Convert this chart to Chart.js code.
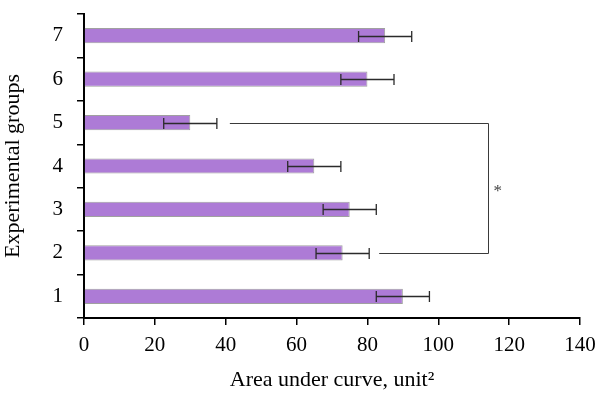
<!DOCTYPE html>
<html>
<head>
<meta charset="utf-8">
<script src="https://cdn.jsdelivr.net/npm/chart.js@4/dist/chart.umd.min.js"></script>
<style>
  html, body { margin: 0; padding: 0; background: #fff; }
  #wrap { width: 598px; height: 393px; }
</style>
</head>
<body>
<div id="wrap"><canvas id="aucChart"></canvas></div>
<script>
// groups, bottom to top
const groups = ['1', '2', '3', '4', '5', '6', '7'];
const aucValues = [90, 73, 75, 65, 30, 80, 85];
const aucErrors = [7.5, 7.5, 7.5, 7.5, 7.5, 7.5, 7.5];
const xTicks = [0, 20, 40, 60, 80, 100, 120, 140];

// significance bracket between group 5 and group 2
const sigPair = ['5', '2'];
const sigBracketX = 114;
const sigLabel = '*';

const serif = '"Liberation Serif", "Times New Roman", serif';

const errorBars = {
    id: 'errorBars',
    afterDatasetsDraw(chart) {
        const ctx = chart.ctx;
        const meta = chart.getDatasetMeta(0);
        const x = chart.scales.x;
        ctx.save();
        ctx.strokeStyle = '#2b2b2b';
        ctx.lineWidth = 1.3;
        meta.data.forEach((bar, i) => {
            const y = Math.round(bar.y) + 0.5;
            const lo = x.getPixelForValue(aucValues[i] - aucErrors[i]);
            const hi = x.getPixelForValue(aucValues[i] + aucErrors[i]);
            ctx.beginPath();
            ctx.moveTo(lo, y); ctx.lineTo(hi, y);
            ctx.moveTo(lo, y - 5.5); ctx.lineTo(lo, y + 5.5);
            ctx.moveTo(hi, y - 5.5); ctx.lineTo(hi, y + 5.5);
            ctx.stroke();
        });

        // bracket
        const a = groups.indexOf(sigPair[0]);
        const b = groups.indexOf(sigPair[1]);
        const ya = Math.round(meta.data[a].y) + 0.5;
        const yb = Math.round(meta.data[b].y) + 0.5;
        const xa = x.getPixelForValue(aucValues[a] + aucErrors[a]) + 13;
        const xb = x.getPixelForValue(aucValues[b] + aucErrors[b]) + 10;
        const xr = Math.round(x.getPixelForValue(sigBracketX)) + 0.5;
        ctx.strokeStyle = '#3a3a3a';
        ctx.lineWidth = 1;
        ctx.beginPath();
        ctx.moveTo(xa, ya); ctx.lineTo(xr, ya); ctx.lineTo(xr, yb); ctx.lineTo(xb, yb);
        ctx.stroke();

        ctx.fillStyle = '#444';
        ctx.font = '17px ' + serif;
        ctx.textAlign = 'left';
        ctx.textBaseline = 'middle';
        ctx.fillText(sigLabel, xr + 5, (ya + yb) / 2 + 3);
        ctx.restore();
    }
};

new Chart(document.getElementById('aucChart'), {
    type: 'bar',
    data: {
        labels: groups,
        datasets: [{
            data: aucValues,
            backgroundColor: '#ad7bd6',
            borderColor: '#a0a0a0',
            borderWidth: 1,
            categoryPercentage: 1,
            barPercentage: 0.35
        }]
    },
    options: {
        indexAxis: 'y',
        responsive: true,
        maintainAspectRatio: false,
        animation: false,
        layout: { padding: { left: 0, right: 18, top: 14, bottom: 0 } },
        plugins: {
            legend: { display: false },
            tooltip: { enabled: false }
        },
        scales: {
            x: {
                type: 'linear',
                min: 0,
                max: 140,
                afterBuildTicks: s => { s.ticks = xTicks.map(v => ({ value: v })); },
                afterFit: s => {
                    s.height = 75;
                    s.paddingLeft = 0;
                    s.paddingRight = 0;
                },
                border: { display: true, color: '#000', width: 2 },
                grid: {
                    drawOnChartArea: false,
                    drawTicks: true,
                    tickLength: 7,
                    color: '#000',
                    lineWidth: 1.5
                },
                ticks: {
                    color: '#000',
                    padding: 8,
                    maxRotation: 0,
                    font: { family: serif, size: 21 }
                },
                title: {
                    display: true,
                    text: 'Area under curve, unit²',
                    color: '#000',
                    padding: { top: 6, bottom: 0 },
                    font: { family: serif, size: 22 }
                }
            },
            y: {
                type: 'category',
                reverse: true,
                offset: true,
                afterFit: s => {
                    s.width = 84;
                    s.paddingTop = 0;
                    s.paddingBottom = 0;
                },
                border: { display: true, color: '#000', width: 2 },
                grid: {
                    offset: true,
                    drawOnChartArea: false,
                    drawTicks: true,
                    tickLength: 7,
                    color: '#000',
                    lineWidth: 1.5
                },
                ticks: {
                    color: '#000',
                    padding: 14,
                    font: { family: serif, size: 21 }
                },
                title: {
                    display: true,
                    text: 'Experimental groups',
                    color: '#000',
                    padding: { top: 0, bottom: 6 },
                    font: { family: serif, size: 22 }
                }
            }
        }
    },
    plugins: [errorBars]
});
</script>
</body>
</html>
